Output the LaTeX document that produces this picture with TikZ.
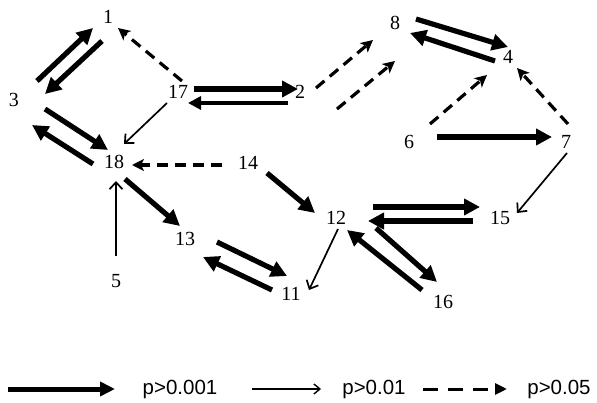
\documentclass[tikz,border=0pt]{standalone}
\usepackage{fontspec}
\setmainfont{Liberation Serif}
\newfontfamily\legfont{Liberation Sans}
\usetikzlibrary{arrows.meta,calc}
\tikzset{
  lab/.style={inner sep=0pt, font=\fontsize{20}{24}\selectfont},
  leg/.style={inner sep=0pt, font=\legfont\fontsize{20.5}{24}\selectfont},
  thk/.style={line width=5.2pt, -{Triangle[length=16pt,width=16pt]}},
  med/.style={line width=4pt, -{Triangle[length=13pt,width=13pt]}},
  thn/.style={line width=1.7pt, -{Straight Barb[length=7pt,width=13pt]}},
  dsh/.style={line width=3.2pt, dash pattern=on 11pt off 7pt, -{Stealth[length=12pt,width=12pt,inset=3pt]}},
}
\begin{document}
\begin{tikzpicture}[x=1pt,y=-1pt]
\useasboundingbox (0,0) rectangle (597,403);
% nodes
\node[lab] (n1)  at (108,17)  {1};
\node[lab] (n3)  at (14,100)  {3};
\node[lab] (n17) at (178,92)  {17};
\node[lab] (n2)  at (300,92)  {2};
\node[lab] (n8)  at (395,23)  {8};
\node[lab] (n4)  at (508,57)  {4};
\node[lab] (n6)  at (409,142) {6};
\node[lab] (n7)  at (566,142) {7};
\node[lab] (n18) at (114,162) {18};
\node[lab] (n14) at (248,163) {14};
\node[lab] (n12) at (336,218) {12};
\node[lab] (n15) at (500,218) {15};
\node[lab] (n13) at (185,239) {13};
\node[lab] (n5)  at (116,281) {5};
\node[lab] (n11) at (291,294) {11};
\node[lab] (n16) at (443,302) {16};
\coordinate (d0) at (337,109);
% edges
\draw[thk] ($(n3)+(23,-19)$) -- ($(n1)+(-15,11)$);
\draw[thk] ($(n1)+(-6,24)$) -- ($(n3)+(31,-6)$);
\draw[dsh] ($(n17)+(4,-11)$) -- ($(n1)+(10,11)$);
\draw[thk] ($(n17)+(16,-3)$) -- ($(n2)+(-2,-3)$);
\draw[med] ($(n2)+(-12,11)$) -- ($(n17)+(10,11)$);
\draw[thn] ($(n17)+(-11,11)$) -- ($(n18)+(10,-18)$);
\draw[thk] ($(n3)+(31,9)$) -- ($(n18)+(-6,-12)$);
\draw[thk] ($(n18)+(-21,2)$) -- ($(n3)+(18,25)$);
\draw[dsh] ($(n14)+(-26,2)$) -- ($(n18)+(18,3)$);
\draw[thn] ($(n5)+(0,-25)$) -- ($(n18)+(2,19)$);
\draw[thk] ($(n18)+(11,17)$) -- ($(n13)+(-5,-13)$);
\draw[thk] ($(n13)+(32,3)$) -- ($(n11)+(-4,-18)$);
\draw[thk] ($(n11)+(-19,-4)$) -- ($(n13)+(18,18)$);
\draw[thk] ($(n14)+(19,10)$) -- ($(n12)+(-21,-5)$);
\draw[thn] ($(n12)+(2,11)$) -- ($(n11)+(18,-4)$);
\draw[thk] ($(n12)+(37,-11)$) -- ($(n15)+(-20,-11)$);
\draw[thk] ($(n15)+(-27,3)$) -- ($(n12)+(32,3)$);
\draw[thk] ($(n12)+(40,10)$) -- ($(n16)+(-6,-20)$);
\draw[thk] ($(n16)+(-21,-12)$) -- ($(n12)+(11,12)$);
\draw[thn] ($(n7)+(1,11)$) -- ($(n15)+(17,-5)$);
\draw[thk] ($(n8)+(21,-4)$) -- ($(n4)+(0,-10)$);
\draw[thk] ($(n4)+(-13,4)$) -- ($(n8)+(15,10)$);
\draw[dsh] ($(n2)+(16,-4)$) -- ($(n8)+(-22,17)$);
\draw[dsh] (d0) -- ($(n8)+(0,38)$);
\draw[dsh] ($(n6)+(21,-18)$) -- ($(n4)+(-21,18)$);
\draw[dsh] ($(n7)+(2,-18)$) -- ($(n4)+(9,11)$);
\draw[thk] ($(n6)+(28,-5)$) -- ($(n7)+(-14,-5)$);
% legend
\node[leg] (t1) at (180,389) {p>0.001};
\node[leg] (t2) at (374,389) {p>0.01};
\node[leg] (t3) at (559,389) {p>0.05};
\coordinate (a1) at (8,389);   \coordinate (b1) at (115,389);
\coordinate (a2) at (252,389); \coordinate (b2) at (321,389);
\coordinate (a3) at (423,389); \coordinate (b3) at (507,389);
\draw[line width=5pt, -{Triangle[length=15pt,width=14pt]}] (a1) -- (b1);
\draw[line width=1.4pt, -{Straight Barb[length=6pt,width=10pt]}] (a2) -- (b2);
\draw[line width=3pt, dash pattern=on 15pt off 10pt, -{Triangle[length=12pt,width=11pt]}] (a3) -- (b3);
\end{tikzpicture}
\end{document}
